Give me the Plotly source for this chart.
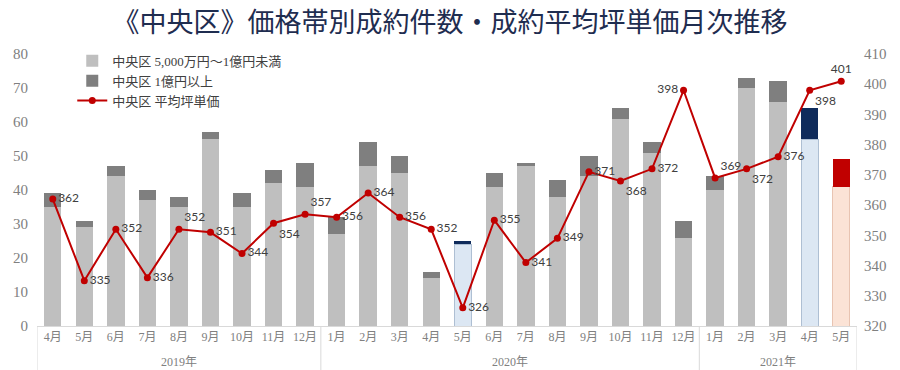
import plotly.graph_objects as go
from plotly.subplots import make_subplots

years = ["2019年"] * 9 + ["2020年"] * 12 + ["2021年"] * 5
months = ["4月", "5月", "6月", "7月", "8月", "9月", "10月", "11月", "12月",
          "1月", "2月", "3月", "4月", "5月", "6月", "7月", "8月", "9月", "10月", "11月", "12月",
          "1月", "2月", "3月", "4月", "5月"]

mid_range = [35, 29, 44, 37, 35, 55, 35, 42, 41,
             27, 47, 45, 14, 24, 41, 47, 38, 44, 61, 51, 26,
             40, 70, 66, 55, 41]
high_range = [4, 2, 3, 3, 3, 2, 4, 4, 7,
              5, 7, 5, 2, 1, 4, 1, 5, 6, 3, 3, 5,
              4, 3, 6, 9, 8]
avg_tsubo = [362, 335, 352, 336, 352, 351, 344, 354, 357,
             356, 364, 356, 352, 326, 355, 341, 349, 371, 368, 372, 398,
             369, 372, 376, 398, 401]

label_pos = ["middle right", "middle right", "middle right", "middle right", "top right",
             "middle right", "middle right", "bottom right", "top right",
             "middle right", "middle right", "middle right", "middle right", "middle right",
             "middle right", "middle right", "middle right", "middle right", "bottom right",
             "middle right", "middle left",
             "top right", "bottom right", "middle right", "bottom right", "top center"]

idx = list(range(len(months)))

# highlight colours (styles, not data)
mid_colors = ["#bfbfbf"] * len(idx)
high_colors = ["#7f7f7f"] * len(idx)
mid_line = ["rgba(0,0,0,0)"] * len(idx)
for i in (13, 24):
    mid_colors[i] = "#dce7f3"
    high_colors[i] = "#0f2b5b"
    mid_line[i] = "#aebfd3"
mid_colors[25] = "#fbe3d6"
high_colors[25] = "#c00000"
mid_line[25] = "#e8c4b2"

serif = "Liberation Serif, Noto Sans CJK JP, serif"
cjk = "Noto Sans CJK JP, sans-serif"

fig = make_subplots(specs=[[{"secondary_y": True}]])

fig.add_trace(go.Bar(
    x=idx, y=mid_range, name="中央区 5,000万円～1億円未満",
    marker=dict(color=mid_colors, line=dict(color=mid_line, width=1)),
), secondary_y=False)
fig.add_trace(go.Bar(
    x=idx, y=high_range, name="中央区 1億円以上",
    marker=dict(color=high_colors, line=dict(width=0)),
), secondary_y=False)
fig.add_trace(go.Scatter(
    x=idx, y=avg_tsubo, name="中央区 平均坪単価", mode="lines+markers+text",
    line=dict(color="#c00000", width=2),
    marker=dict(color="#c00000", size=7),
    text=[str(v) for v in avg_tsubo], textposition=label_pos,
    textfont=dict(family="Lato, Open Sans, sans-serif", size=12, color="#404040"),
), secondary_y=True)

# year group labels and dividers
groups = []
for i, y in enumerate(years):
    if not groups or groups[-1][0] != y:
        groups.append([y, i, i])
    else:
        groups[-1][2] = i

annotations = []
shapes = []
for name, s, e in groups:
    annotations.append(dict(x=(s + e) / 2, xref="x", y=0, yref="paper", yshift=-36,
                            text=name, showarrow=False, yanchor="middle",
                            font=dict(family=serif, size=12, color="#808080")))
    shapes.append(dict(type="line", xref="x", yref="paper", x0=s - 0.5, x1=s - 0.5,
                       y0=0, y1=-0.17, line=dict(color="#d9d9d9", width=1)))
shapes.append(dict(type="line", xref="x", yref="paper",
                   x0=groups[-1][2] + 0.5, x1=groups[-1][2] + 0.5,
                   y0=0, y1=-0.17, line=dict(color="#d9d9d9", width=1)))

fig.update_layout(
    barmode="stack",
    bargap=0.45,
    width=900, height=370,
    margin=dict(l=37, r=43, t=54, b=44),
    plot_bgcolor="white",
    paper_bgcolor="white",
    title=dict(text="《中央区》価格帯別成約件数・成約平均坪単価月次推移",
               x=0.5, xanchor="center", yref="container", y=0.94, yanchor="middle",
               font=dict(family=cjk, size=27, color="#1f2d50")),
    legend=dict(x=0.043, y=1.03, xanchor="left", yanchor="top",
                bgcolor="rgba(255,255,255,0)", traceorder="normal",
                font=dict(family=serif, size=13, color="#404040"),
                tracegroupgap=0, itemwidth=30),
    showlegend=True,
    font=dict(family=serif, color="#808080"),
    annotations=annotations,
    shapes=shapes,
)

fig.update_xaxes(
    domain=[0, 1], range=[-0.5, len(idx) - 0.5],
    tickmode="array", tickvals=idx, ticktext=months,
    showline=True, linecolor="#d9d9d9", linewidth=1,
    tickfont=dict(family=serif, size=12, color="#808080"),
    showgrid=False, ticks="", automargin=False, zeroline=False,
)
fig.update_yaxes(range=[0, 80], dtick=10, showgrid=False, zeroline=False, automargin=False,
                 ticklabelstandoff=8,
                 tickfont=dict(family=serif, size=15, color="#808080"),
                 secondary_y=False)
fig.update_yaxes(range=[320, 410], dtick=10, showgrid=False, zeroline=False, automargin=False,
                 ticklabelstandoff=6,
                 tickfont=dict(family=serif, size=15, color="#808080"),
                 secondary_y=True)

fig.write_html("out.html", config={"displayModeBar": False},
               post_script="document.body.style.margin='0';")
